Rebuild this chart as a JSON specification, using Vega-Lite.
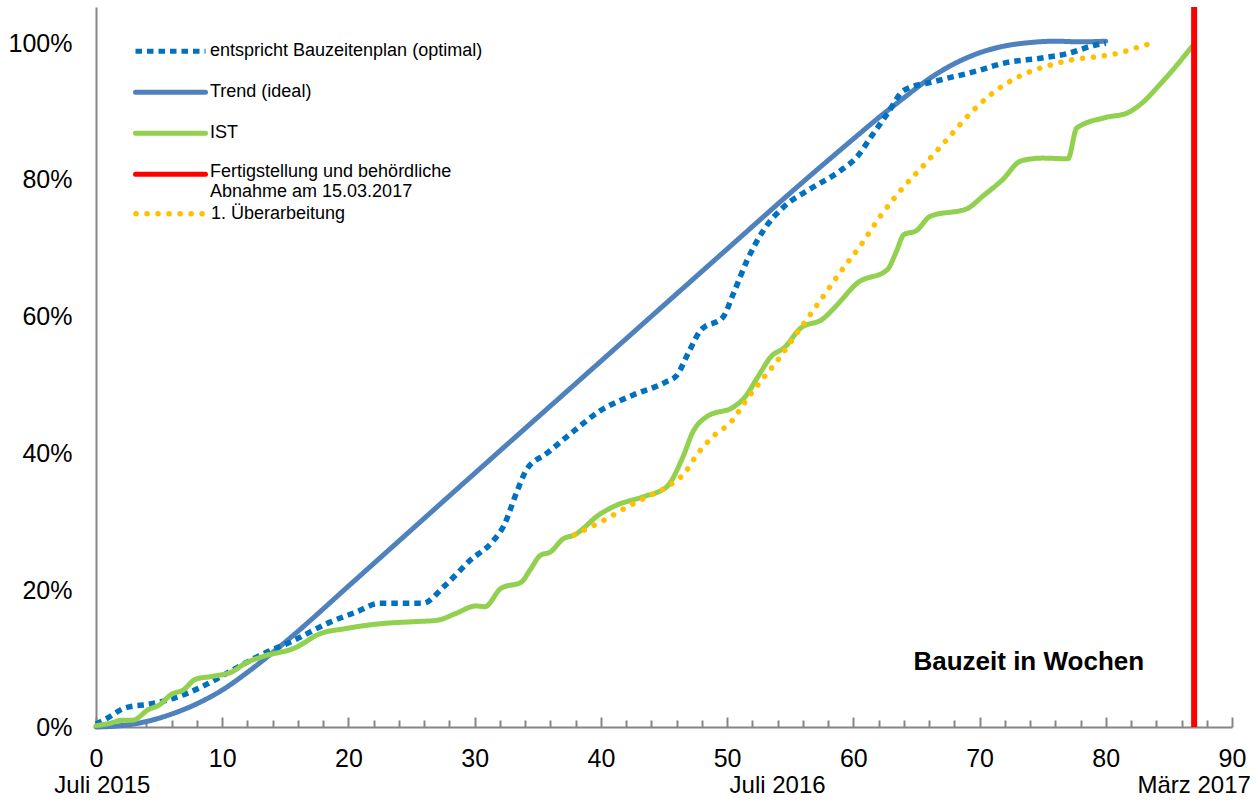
{
  "$schema": "https://vega.github.io/schema/vega-lite/v6.json",
  "width": 1136,
  "height": 720,
  "autosize": {"type": "none"},
  "padding": {"left": 96, "top": 7, "right": 27, "bottom": 73},
  "background": "white",
  "config": {
    "view": {"stroke": null},
    "font": "Liberation Sans",
    "axis": {"labelFont": "Liberation Sans", "labelColor": "#000000", "domainColor": "#868686", "tickColor": "#868686", "domainWidth": 2, "grid": false, "title": null}
  },
  "datasets": {
    "lines": [
      {"series": "plan", "week": 0, "value": 0.004},
      {"series": "plan", "week": 1, "value": 0.014},
      {"series": "plan", "week": 2.3, "value": 0.028},
      {"series": "plan", "week": 4.4, "value": 0.034},
      {"series": "plan", "week": 6.3, "value": 0.043},
      {"series": "plan", "week": 8.4, "value": 0.059},
      {"series": "plan", "week": 10.6, "value": 0.081},
      {"series": "plan", "week": 12.9, "value": 0.104},
      {"series": "plan", "week": 15.6, "value": 0.126},
      {"series": "plan", "week": 18.5, "value": 0.153},
      {"series": "plan", "week": 20.6, "value": 0.168},
      {"series": "plan", "week": 22.5, "value": 0.181},
      {"series": "plan", "week": 25.9, "value": 0.181},
      {"series": "plan", "week": 27.6, "value": 0.206},
      {"series": "plan", "week": 29.6, "value": 0.243},
      {"series": "plan", "week": 31.5, "value": 0.273},
      {"series": "plan", "week": 32.3, "value": 0.294},
      {"series": "plan", "week": 33.3, "value": 0.342},
      {"series": "plan", "week": 34.1, "value": 0.376},
      {"series": "plan", "week": 35.7, "value": 0.4},
      {"series": "plan", "week": 37.8, "value": 0.432},
      {"series": "plan", "week": 39.9, "value": 0.462},
      {"series": "plan", "week": 42.6, "value": 0.486},
      {"series": "plan", "week": 45.2, "value": 0.505},
      {"series": "plan", "week": 46, "value": 0.514},
      {"series": "plan", "week": 47, "value": 0.55},
      {"series": "plan", "week": 47.9, "value": 0.58},
      {"series": "plan", "week": 49.7, "value": 0.6},
      {"series": "plan", "week": 50.5, "value": 0.634},
      {"series": "plan", "week": 51.6, "value": 0.683},
      {"series": "plan", "week": 52.9, "value": 0.727},
      {"series": "plan", "week": 54.5, "value": 0.761},
      {"series": "plan", "week": 56.6, "value": 0.787},
      {"series": "plan", "week": 59, "value": 0.814},
      {"series": "plan", "week": 60.3, "value": 0.834},
      {"series": "plan", "week": 61.4, "value": 0.863},
      {"series": "plan", "week": 62.7, "value": 0.897},
      {"series": "plan", "week": 64, "value": 0.931},
      {"series": "plan", "week": 66.4, "value": 0.944},
      {"series": "plan", "week": 69.5, "value": 0.958},
      {"series": "plan", "week": 72.2, "value": 0.972},
      {"series": "plan", "week": 74.8, "value": 0.978},
      {"series": "plan", "week": 77, "value": 0.985},
      {"series": "plan", "week": 79.1, "value": 0.997},
      {"series": "plan", "week": 80, "value": 1.0},
      {"series": "trend", "week": 0, "value": 0},
      {"series": "trend", "week": 2, "value": 0.002},
      {"series": "trend", "week": 4, "value": 0.008},
      {"series": "trend", "week": 6, "value": 0.019},
      {"series": "trend", "week": 8, "value": 0.034},
      {"series": "trend", "week": 10, "value": 0.054},
      {"series": "trend", "week": 12, "value": 0.08},
      {"series": "trend", "week": 14, "value": 0.109},
      {"series": "trend", "week": 16, "value": 0.14},
      {"series": "trend", "week": 20, "value": 0.206},
      {"series": "trend", "week": 30, "value": 0.371},
      {"series": "trend", "week": 40, "value": 0.535},
      {"series": "trend", "week": 50, "value": 0.699},
      {"series": "trend", "week": 56, "value": 0.797},
      {"series": "trend", "week": 60, "value": 0.86},
      {"series": "trend", "week": 62, "value": 0.891},
      {"series": "trend", "week": 64, "value": 0.92},
      {"series": "trend", "week": 66, "value": 0.948},
      {"series": "trend", "week": 68, "value": 0.97},
      {"series": "trend", "week": 70, "value": 0.986},
      {"series": "trend", "week": 72, "value": 0.996},
      {"series": "trend", "week": 74, "value": 1.001},
      {"series": "trend", "week": 76, "value": 1.003},
      {"series": "trend", "week": 78, "value": 1.002},
      {"series": "trend", "week": 80, "value": 1.003},
      {"series": "ist", "week": 0, "value": 0.002},
      {"series": "ist", "week": 1, "value": 0.005},
      {"series": "ist", "week": 2.1, "value": 0.01},
      {"series": "ist", "week": 2.9, "value": 0.01},
      {"series": "ist", "week": 4.2, "value": 0.026},
      {"series": "ist", "week": 5, "value": 0.032},
      {"series": "ist", "week": 6, "value": 0.048},
      {"series": "ist", "week": 6.9, "value": 0.054},
      {"series": "ist", "week": 7.9, "value": 0.07},
      {"series": "ist", "week": 9.2, "value": 0.074},
      {"series": "ist", "week": 10.8, "value": 0.081},
      {"series": "ist", "week": 11.9, "value": 0.094},
      {"series": "ist", "week": 13.2, "value": 0.103},
      {"series": "ist", "week": 15.8, "value": 0.116},
      {"series": "ist", "week": 17.7, "value": 0.136},
      {"series": "ist", "week": 19.8, "value": 0.144},
      {"series": "ist", "week": 22.5, "value": 0.151},
      {"series": "ist", "week": 25.1, "value": 0.154},
      {"series": "ist", "week": 27, "value": 0.156},
      {"series": "ist", "week": 28.5, "value": 0.166},
      {"series": "ist", "week": 30.1, "value": 0.177},
      {"series": "ist", "week": 30.8, "value": 0.176},
      {"series": "ist", "week": 32.1, "value": 0.203},
      {"series": "ist", "week": 33.7, "value": 0.212},
      {"series": "ist", "week": 34.4, "value": 0.23},
      {"series": "ist", "week": 35.2, "value": 0.251},
      {"series": "ist", "week": 36, "value": 0.256},
      {"series": "ist", "week": 37, "value": 0.275},
      {"series": "ist", "week": 37.9, "value": 0.281},
      {"series": "ist", "week": 39.9, "value": 0.311},
      {"series": "ist", "week": 41.2, "value": 0.324},
      {"series": "ist", "week": 43.4, "value": 0.337},
      {"series": "ist", "week": 45.2, "value": 0.351},
      {"series": "ist", "week": 46.5, "value": 0.395},
      {"series": "ist", "week": 47.3, "value": 0.432},
      {"series": "ist", "week": 48.4, "value": 0.454},
      {"series": "ist", "week": 50.5, "value": 0.468},
      {"series": "ist", "week": 51.3, "value": 0.48},
      {"series": "ist", "week": 52.6, "value": 0.517},
      {"series": "ist", "week": 53.4, "value": 0.54},
      {"series": "ist", "week": 54.6, "value": 0.556},
      {"series": "ist", "week": 55.8, "value": 0.583},
      {"series": "ist", "week": 57.6, "value": 0.597},
      {"series": "ist", "week": 58.6, "value": 0.615},
      {"series": "ist", "week": 60.3, "value": 0.649},
      {"series": "ist", "week": 62.7, "value": 0.669},
      {"series": "ist", "week": 63.4, "value": 0.695},
      {"series": "ist", "week": 64, "value": 0.72},
      {"series": "ist", "week": 65, "value": 0.726},
      {"series": "ist", "week": 66.1, "value": 0.747},
      {"series": "ist", "week": 69, "value": 0.758},
      {"series": "ist", "week": 70.3, "value": 0.777},
      {"series": "ist", "week": 71.8, "value": 0.8},
      {"series": "ist", "week": 73.3, "value": 0.828},
      {"series": "ist", "week": 75, "value": 0.832},
      {"series": "ist", "week": 77, "value": 0.831},
      {"series": "ist", "week": 77.7, "value": 0.876},
      {"series": "ist", "week": 79.9, "value": 0.891},
      {"series": "ist", "week": 81.7, "value": 0.898},
      {"series": "ist", "week": 82.5, "value": 0.907},
      {"series": "ist", "week": 84.6, "value": 0.946},
      {"series": "ist", "week": 87, "value": 0.999},
      {"series": "fertig", "week": 87, "value": null},
      {"series": "ueber", "week": 37.9, "value": 0.281},
      {"series": "ueber", "week": 38.9, "value": 0.29},
      {"series": "ueber", "week": 40.5, "value": 0.305},
      {"series": "ueber", "week": 42, "value": 0.321},
      {"series": "ueber", "week": 43.6, "value": 0.336},
      {"series": "ueber", "week": 45.2, "value": 0.351},
      {"series": "ueber", "week": 46.7, "value": 0.373},
      {"series": "ueber", "week": 47.6, "value": 0.398},
      {"series": "ueber", "week": 48.9, "value": 0.425},
      {"series": "ueber", "week": 50.4, "value": 0.448},
      {"series": "ueber", "week": 51.4, "value": 0.475},
      {"series": "ueber", "week": 52.5, "value": 0.502},
      {"series": "ueber", "week": 53.7, "value": 0.529},
      {"series": "ueber", "week": 55.8, "value": 0.583},
      {"series": "ueber", "week": 57.4, "value": 0.624},
      {"series": "ueber", "week": 59, "value": 0.666},
      {"series": "ueber", "week": 60.6, "value": 0.705},
      {"series": "ueber", "week": 62.1, "value": 0.746},
      {"series": "ueber", "week": 63.9, "value": 0.788},
      {"series": "ueber", "week": 65.7, "value": 0.824},
      {"series": "ueber", "week": 67.6, "value": 0.863},
      {"series": "ueber", "week": 69.4, "value": 0.9},
      {"series": "ueber", "week": 70.7, "value": 0.922},
      {"series": "ueber", "week": 72.2, "value": 0.942},
      {"series": "ueber", "week": 73.8, "value": 0.957},
      {"series": "ueber", "week": 75.6, "value": 0.968},
      {"series": "ueber", "week": 77.4, "value": 0.976},
      {"series": "ueber", "week": 79.2, "value": 0.98},
      {"series": "ueber", "week": 80.9, "value": 0.985},
      {"series": "ueber", "week": 82.7, "value": 0.995},
      {"series": "ueber", "week": 83.6, "value": 1.0}
    ],
    "dates": [
      {"week": 0.5, "label": "Juli 2015", "value": 0},
      {"week": 54, "label": "Juli 2016", "value": 0},
      {"week": 87, "label": "März 2017", "value": 0}
    ],
    "title": [
      {"week": 73.9, "label": "Bauzeit in Wochen", "value": 0.083}
    ]
  },
  "encoding": {
    "x": {
      "field": "week", "type": "quantitative",
      "scale": {"domain": [0, 90], "nice": false, "zero": false},
      "axis": {
        "values": [0,2,4,6,8,10,12,14,16,18,20,22,24,26,28,30,32,34,36,38,40,42,44,46,48,50,52,54,56,58,60,62,64,66,68,70,72,74,76,78,80,82,84,86,88,90],
        "labelExpr": "datum.value % 10 === 0 ? datum.label : ''",
        "labelFontSize": 25, "labelOverlap": false, "labelFlush": false,
        "tickSize": {"expr": "datum.value % 10 === 0 ? -10 : -7"}, "tickWidth": 2, "labelPadding": 29, "format": "d"
      }
    },
    "y": {
      "field": "value", "type": "quantitative",
      "scale": {"domain": [0, 1.053], "nice": false},
      "axis": {"values": [0, 0.2, 0.4, 0.6, 0.8, 1.0], "format": ".0%", "ticks": false, "labelPadding": 24, "labelFontSize": 25}
    }
  },
  "layer": [
    {
      "data": {"name": "lines"},
      "encoding": {
        "color": {
          "field": "series", "type": "nominal",
          "scale": {"domain": ["plan", "trend", "ist", "fertig"], "range": ["#0070C0", "#4F81BD", "#92D050", "#FF0000"]},
          "legend": {
            "orient": "none", "legendX": 37, "legendY": 24, "title": null, "padding": 0,
            "symbolType": "stroke", "symbolSize": 4900, "symbolStrokeWidth": 5, "symbolOffset": 0,
            "labelFont": "Liberation Sans", "labelFontSize": 18, "labelOffset": 2, "labelLimit": 500, "rowPadding": 0, "clipHeight": 40.7,
            "labelExpr": "datum.value === 'plan' ? 'entspricht Bauzeitenplan (optimal)' : datum.value === 'trend' ? 'Trend (ideal)' : datum.value === 'ist' ? 'IST' : ['Fertigstellung und behördliche', 'Abnahme am 15.03.2017']",
            "encode": {
              "symbols": {"update": {"strokeCap": {"signal": "datum.value === 'plan' ? 'butt' : 'round'"}}},
              "labels": {"update": {"lineHeight": {"value": 20}, "dy": {"signal": "datum.value === 'fertig' ? -2 : 0"}}}
            }
          }
        },
        "strokeDash": {
          "field": "series", "type": "nominal",
          "scale": {"domain": ["plan", "trend", "ist", "fertig"], "range": [[6.5, 5], [1, 0], [1, 0], [1, 0]]},
          "legend": null
        }
      },
      "layer": [
        {
          "transform": [{"filter": "datum.series === 'trend'"}],
          "mark": {"type": "line", "interpolate": "monotone", "strokeWidth": 5, "strokeCap": "round"}
        },
        {
          "transform": [{"filter": "datum.series === 'plan'"}],
          "mark": {"type": "line", "interpolate": "monotone", "strokeWidth": 5.5, "strokeCap": "butt"}
        },
        {
          "transform": [{"filter": "datum.series === 'ist'"}],
          "mark": {"type": "line", "interpolate": "monotone", "strokeWidth": 5, "strokeCap": "round"}
        },
        {
          "transform": [{"filter": "datum.series === 'fertig'"}],
          "mark": {"type": "rule", "strokeWidth": 6},
          "encoding": {"y": null}
        }
      ]
    },
    {
      "data": {"name": "lines"},
      "transform": [{"filter": "datum.series === 'ueber'"}],
      "mark": {"type": "line", "interpolate": "monotone", "strokeWidth": 5.5, "strokeCap": "round", "strokeDash": [0.1, 10.9]},
      "encoding": {
        "stroke": {
          "field": "series", "type": "nominal",
          "scale": {"domain": ["ueber"], "range": ["#FFC000"]},
          "legend": {
            "orient": "none", "legendX": 37, "legendY": 186.5, "title": null, "padding": 0,
            "symbolType": "stroke", "symbolSize": 4900, "symbolStrokeWidth": 5.5, "symbolOffset": 0, "symbolDash": [0.1, 10.9],
            "labelFont": "Liberation Sans", "labelFontSize": 18, "labelOffset": 2, "labelLimit": 500, "clipHeight": 40.7,
            "labelExpr": "'1. Überarbeitung'",
            "encode": {
              "symbols": {"update": {"strokeCap": {"value": "round"}}}
            }
          }
        }
      }
    },
    {
      "data": {"name": "dates"},
      "mark": {"type": "text", "fontSize": 24, "font": "Liberation Sans", "baseline": "middle", "align": "center", "dy": 59, "fill": "#000000"},
      "encoding": {
        "text": {"field": "label", "type": "nominal"}
      }
    },
    {
      "data": {"name": "title"},
      "mark": {"type": "text", "fontSize": 26, "fontWeight": "bold", "font": "Liberation Sans", "baseline": "alphabetic", "align": "center", "fill": "#000000"},
      "encoding": {
        "text": {"field": "label", "type": "nominal"}
      }
    }
  ]
}
